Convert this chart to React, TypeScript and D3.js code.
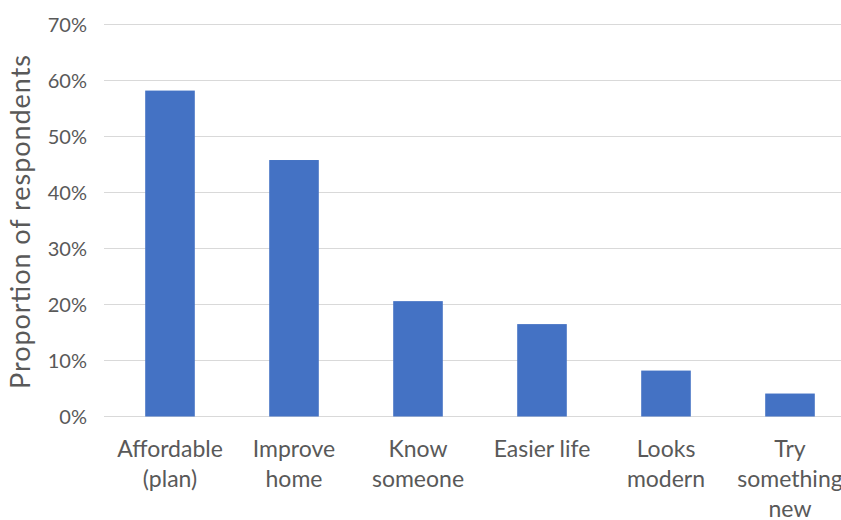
import React from "react";
import * as d3 from "d3";

// Reasons given by respondents, share of respondents (0–1)
const categories: string[][] = [
  ["Affordable", "(plan)"],
  ["Improve", "home"],
  ["Know", "someone"],
  ["Easier life"],
  ["Looks", "modern"],
  ["Try", "something", "new"],
];
const values: number[] = [0.582, 0.458, 0.206, 0.165, 0.082, 0.041];
const yTicks: number[] = [0, 0.1, 0.2, 0.3, 0.4, 0.5, 0.6, 0.7];
const yTitle = "Proportion of respondents";

const W = 841;
const H = 520;
const FONT = "Lato, 'Open Sans', sans-serif";
const TEXT = "#595959";

export default function App() {
  const x = d3
    .scaleBand<number>()
    .domain(d3.range(values.length))
    .range([108, 852])
    .paddingInner(0.6)
    .paddingOuter(0.3);
  const y = d3.scaleLinear().domain([0, 0.7]).range([416.5, 24.5]);
  const fmt = d3.format(".0%");

  return (
    <svg
      width={W}
      height={H}
      style={{ position: "absolute", left: 0, top: 0, background: "#fff" }}
      fontFamily={FONT}
    >
      {yTicks.map((t) => (
        <g key={t}>
          <line x1={104} x2={W} y1={y(t)} y2={y(t)} stroke="#d9d9d9" strokeWidth={1.2} />
          <text
            x={87}
            y={y(t)}
            dy="0.35em"
            textAnchor="end"
            fontSize={20}
            fill={TEXT}
          >
            {fmt(t)}
          </text>
        </g>
      ))}
      {values.map((v, i) => (
        <rect
          key={i}
          x={x(i)}
          width={x.bandwidth()}
          y={y(v)}
          height={y(0) - y(v)}
          fill="#4472C4"
        />
      ))}
      {categories.map((lines, i) => (
        <text
          key={i}
          x={(x(i) ?? 0) + x.bandwidth() / 2}
          y={457}
          textAnchor="middle"
          fontSize={23}
          fill={TEXT}
        >
          {lines.map((l, j) => (
            <tspan key={j} x={(x(i) ?? 0) + x.bandwidth() / 2} dy={j === 0 ? 0 : 30}>
              {l}
            </tspan>
          ))}
        </text>
      ))}
      <text
        transform={`translate(30,222) rotate(-90)`}
        textAnchor="middle"
        fontSize={27}
        textLength={334}
        lengthAdjust="spacing"
        fill={TEXT}
      >
        {yTitle}
      </text>
    </svg>
  );
}
